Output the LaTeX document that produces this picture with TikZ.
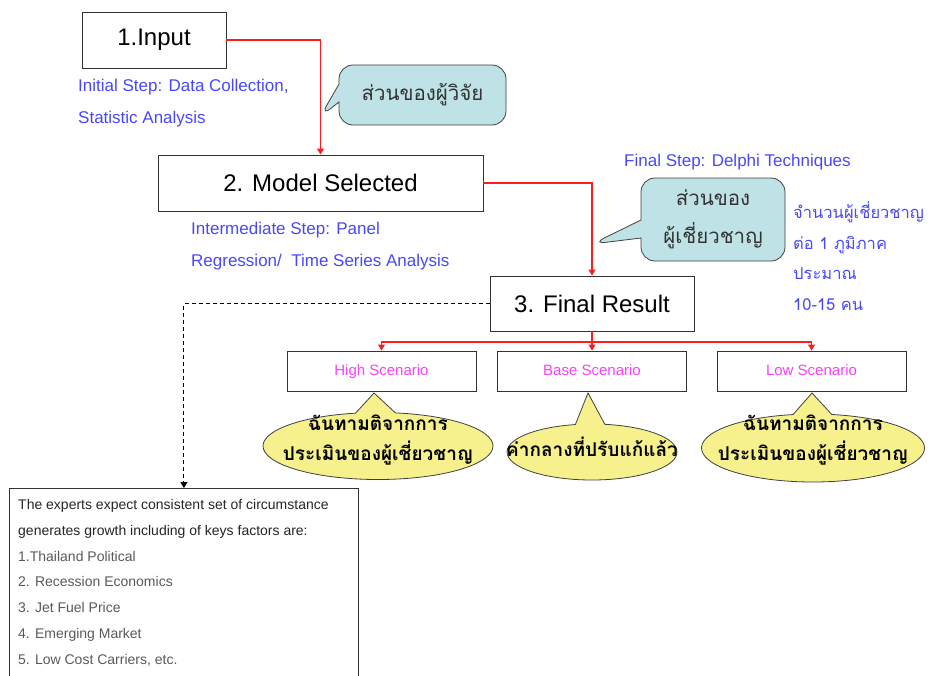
\documentclass[tikz,border=0pt]{standalone}
\usepackage{fontspec}
\setmainfont{Liberation Sans}
\newfontfamily\thaifont[Script=Thai]{Loma}
\usetikzlibrary{positioning, shapes.geometric, shapes.callouts, arrows.meta}

\definecolor{stepblue}{RGB}{72,72,250}
\definecolor{scenpink}{RGB}{250,64,250}
\definecolor{linkred}{RGB}{250,30,30}
\definecolor{noteteal}{RGB}{190,226,229}
\definecolor{noteyellow}{RGB}{246,241,140}
\newcommand{\BOXLINE}{0.9pt}
\newcommand{\FSIZE}[2]{\fontsize{#1}{#2}\selectfont}

\begin{document}
\begin{tikzpicture}[x=1pt, y=-1pt,
        stagebox/.style={draw=black!80, line width=\BOXLINE, inner sep=0pt, minimum height=56pt, font=\FSIZE{24}{28}},
        scenbox/.style={draw=black!80, line width=\BOXLINE, inner sep=0pt, minimum width=189pt, minimum height=40pt, text height=11pt, text depth=3pt, text=scenpink, font=\FSIZE{15}{18}},
        steptext/.style={anchor=base west, inner sep=0pt, align=left, text=stepblue},
        tealnote/.style={rectangle callout, draw=black!75, line width=0.8pt, fill=noteteal, rounded corners=14pt, inner sep=0pt, callout pointer width=18pt, font=\thaifont\FSIZE{20.5}{38}, text=black!80, align=center},
        yellownote/.style={ellipse callout, draw=black!75, line width=0.8pt, fill=noteyellow, inner sep=0pt, callout pointer arc=20},
        notetext/.style={inner sep=0pt, align=center, font=\thaifont\bfseries\FSIZE{19}{30}},
        link/.style={draw=linkred, line width=1.2pt, -{Triangle[width=7pt, length=6pt]}},
        dashlink/.style={draw=black, line width=1pt, dash pattern=on 4pt off 3pt, -{Triangle[width=7pt, length=6pt]}}
    ]
    \useasboundingbox (0,0) rectangle (928,675);

    % stages
    \node[stagebox, minimum width=144pt] (input) at (154,40) {1.Input};
    \node[stagebox, minimum width=325pt] (model) at (320.5,183) {2. Model Selected};
    \node[stagebox, minimum width=204pt, minimum height=55pt] (final) at (592,303.5) {3. Final Result};

    % scenarios
    \node[scenbox] (high) at (381.5,371) {High Scenario};
    \node[scenbox] (base) at (592,371) {Base Scenario};
    \node[scenbox] (low) at (811.5,371) {Low Scenario};

    % step descriptions (base = last line)
    \node[steptext, font=\FSIZE{17}{32}] (initstep) at (78,123) {Initial Step: Data Collection,\\Statistic Analysis};
    \node[steptext, font=\FSIZE{17}{32}] (midstep) at (191,266) {Intermediate Step: Panel\\Regression/\ \ Time Series Analysis};
    \node[steptext, font=\FSIZE{17}{20}] (laststep) at (624,166) {Final Step: Delphi Techniques};
    \node[steptext, font=\thaifont\FSIZE{16.5}{30.5}] (panelsize) at (793,310) {จำนวนผู้เชี่ยวชาญ\\ต่อ 1 ภูมิภาค\\ประมาณ\\10-15 คน};

    % speech bubbles
    \node[tealnote, minimum width=167pt, minimum height=60pt, callout absolute pointer={(320,117)}] (researcher) at (422.5,95) {ส่วนของผู้วิจัย};
    \node[tealnote, minimum width=144pt, minimum height=83pt, callout absolute pointer={(592,244)}] (experts) at (713,219.5) {ส่วนของ\\ผู้เชี่ยวชาญ};

    \node[yellownote, minimum width=230pt, minimum height=67pt, callout absolute pointer={(374,393)}] (highnote) at (378,446) {};
    \node[yellownote, minimum width=170pt, minimum height=56pt, callout absolute pointer={(588,393)}] (basenote) at (592,452) {};
    \node[yellownote, minimum width=223pt, minimum height=68pt, callout absolute pointer={(812,393)}] (lownote) at (813,448) {};
    \node[notetext] (hightext) at ([yshift=6pt]highnote.center) {ฉันทามติจากการ\\ประเมินของผู้เชี่ยวชาญ};
    \node[notetext] (basetext) at ([yshift=5pt]basenote.center) {ค่ากลางที่ปรับแก้แล้ว};
    \node[notetext] (lowtext) at ([yshift=8pt]lownote.center) {ฉันทามติจากการ\\ประเมินของผู้เชี่ยวชาญ};

    % key factors
    \node[draw=black!80, line width=\BOXLINE, minimum width=349pt, minimum height=220pt, anchor=north west] (factors) at (9,488) {};
    \node[anchor=base west, inner sep=0pt, align=left, font=\FSIZE{14}{25.7}] (factorlist) at (18,664) {%
        \textcolor{black!85}{The experts expect consistent set of circumstance}\\
        \textcolor{black!85}{generates growth including of keys factors are:}\\
        \textcolor{black!65}{1.Thailand Political}\\
        \textcolor{black!65}{2. Recession Economics}\\
        \textcolor{black!65}{3. Jet Fuel Price}\\
        \textcolor{black!65}{4. Emerging Market}\\
        \textcolor{black!65}{5. Low Cost Carriers, etc.}};

    % connectors
    \draw[link] (input.east) -| (model.north);
    \draw[link] (model.east) -| (final.north);
    \draw[link] (final.south) -- (base.north);
    \coordinate (fork) at (592,342);
    \draw[link] (fork) -| (high.north);
    \draw[link] (fork) -| (low.north);
    \draw[dashlink] (final.west) -| (factors.north);
\end{tikzpicture}
\end{document}
